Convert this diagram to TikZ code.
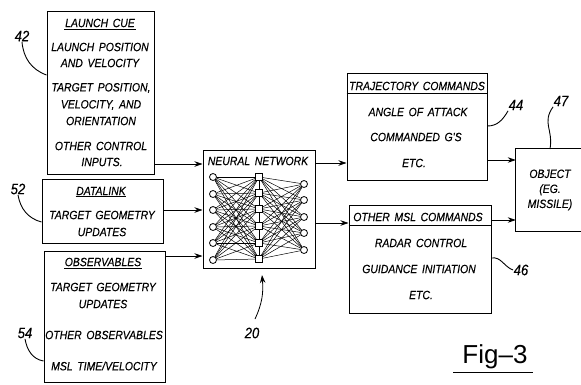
\documentclass[tikz,border=0pt]{standalone}
\usepackage{fontspec}
\newfontfamily\patfont[FakeStretch=0.87,WordSpace=1.6,FakeBold=0.3]{Liberation Sans}
\newfontfamily\figfont{Liberation Sans}
\usepackage{tikz}
\usetikzlibrary{arrows,arrows.meta,positioning,calc}

\begin{document}
\begin{tikzpicture}[
    x=1pt, y=-1pt,
    blockbox/.style={rectangle, draw, line width=1pt, inner sep=0pt},
    boxtext/.style={inner sep=0.5pt, font=\patfont\itshape\fontsize{12}{12}\selectfont},
    reflabel/.style={inner sep=0.5pt, font=\patfont\itshape\fontsize{15}{15}\selectfont},
    leader/.style={line width=0.9pt},
    arrow/.style={-{Stealth[length=8pt,width=5.5pt]}, line width=0.8pt},
    neuron/.style={circle, draw, fill=white, line width=0.8pt, minimum size=7pt, inner sep=0pt},
    hidden/.style={rectangle, draw, fill=white, line width=0.8pt, minimum size=6.5pt, inner sep=0pt},
    synapse/.style={line width=0.5pt}
]
\useasboundingbox (0,0) rectangle (581,384);

% Input blocks
\node[blockbox, minimum width=107pt, minimum height=163pt] (launch) at (100.5,92.5) {};
\node[boxtext] (launchtitle) at (100,23) {LAUNCH CUE};
\node[boxtext] (launch1) at (100,47) {LAUNCH POSITION};
\node[boxtext] (launch2) at (100,63) {AND VELOCITY};
\node[boxtext] (launch3) at (101,88) {TARGET POSITION,};
\node[boxtext] (launch4) at (101,105) {VELOCITY, AND};
\node[boxtext] (launch5) at (101,121) {ORIENTATION};
\node[boxtext] (launch6) at (101,146) {OTHER CONTROL};
\node[boxtext] (launch7) at (102,162) {INPUTS.};
\draw[line width=0.9pt] ([yshift=-1pt]launchtitle.south west) -- ([yshift=-1pt]launchtitle.south east);

\node[blockbox, minimum width=121pt, minimum height=64pt] (datalink) at (102.5,211) {};
\node[boxtext] (datatitle) at (101,191) {DATALINK};
\node[boxtext] (data1) at (102,215) {TARGET GEOMETRY};
\node[boxtext] (data2) at (102,232) {UPDATES};
\draw[line width=0.9pt] ([yshift=-1pt]datatitle.south west) -- ([yshift=-1pt]datatitle.south east);

\node[blockbox, minimum width=121pt, minimum height=131pt] (observ) at (104.5,316.5) {};
\node[boxtext] (obstitle) at (103,262) {OBSERVABLES};
\node[boxtext] (obs1) at (103,287) {TARGET GEOMETRY};
\node[boxtext] (obs2) at (103,304) {UPDATES};
\node[boxtext] (obs3) at (104,335) {OTHER OBSERVABLES};
\node[boxtext] (obs4) at (104,366) {MSL TIME/VELOCITY};
\draw[line width=0.9pt] ([yshift=-1pt]obstitle.south west) -- ([yshift=-1pt]obstitle.south east);

% Network
\node[blockbox, minimum width=112pt, minimum height=118pt] (nn) at (259,209) {};
\node[boxtext] (nntitle) at (258,161) {NEURAL NETWORK};

\foreach \i/\y in {1/177,2/194,3/210,4/227,5/243,6/260}
    \node[neuron] (l\i) at (213,\y) {};
\foreach \i/\y in {1/177,2/193,3/209,4/226,5/243,6/259}
    \node[hidden] (m\i) at (259,\y) {};
\foreach \i/\y in {1/184,2/200,3/217,4/233,5/250}
    \node[neuron] (r\i) at (304,\y) {};

\foreach \i in {1,...,6} {
    \foreach \j in {1,...,6}
        \draw[synapse] (l\i) -- (m\j);
    \foreach \j in {1,...,5}
        \draw[synapse] (m\i) -- (r\j);
}
\foreach \i/\j in {1/2,2/3,3/4,4/5,5/6}
    \draw[line width=0.8pt] (m\i) -- (m\j);

% Output blocks
\node[blockbox, minimum width=140pt, minimum height=107pt] (traj) at (417,126.5) {};
\node[boxtext] (trajtitle) at (417,86) {TRAJECTORY COMMANDS};
\node[boxtext] (traj1) at (418,112) {ANGLE OF ATTACK};
\node[boxtext] (traj2) at (416,137) {COMMANDED G'S};
\node[boxtext] (traj3) at (414,163) {ETC.};
\draw[line width=0.9pt] (traj.west |- 0,93) -- (traj.east |- 0,93);

\node[blockbox, minimum width=142pt, minimum height=108pt] (other) at (420,259) {};
\node[boxtext] (othertitle) at (418,217) {OTHER MSL COMMANDS};
\node[boxtext] (other1) at (421,243) {RADAR CONTROL};
\node[boxtext] (other2) at (419,269) {GUIDANCE INITIATION};
\node[boxtext] (other3) at (421,295) {ETC.};
\draw[line width=0.9pt] (other.west |- 0,225) -- (other.east |- 0,225);

\node[minimum width=65pt, minimum height=82pt, inner sep=0pt] (object) at (548.5,190) {};
\draw[line width=1pt] (object.north east) -- (object.north west) -- (object.south west) -- (object.south east);
\node[boxtext, align=center] (objecttext) at (550,190) {OBJECT\\[3pt](EG.\\[3pt]MISSILE)};

% Connections
\coordinate (nnin1) at (nn.west |- 0,164);
\coordinate (nnin2) at (nn.west |- 0,210);
\coordinate (nnin3) at (nn.west |- 0,256);
\coordinate (nnout1) at (nn.east |- 0,163);
\coordinate (nnout2) at (nn.east |- 0,223);
\coordinate (objin1) at (object.west |- 0,160);
\coordinate (objin2) at (object.west |- 0,220);
\draw[arrow] (launch.east |- nnin1) -- (nnin1);
\draw[arrow] (datalink.east |- nnin2) -- (nnin2);
\draw[arrow] (observ.east |- nnin3) -- (nnin3);
\draw[arrow] (nnout1) -- (traj.west |- nnout1);
\draw[arrow] (nnout2) -- (other.west |- nnout2);
\draw[arrow] (traj.east |- objin1) -- (objin1);
\draw[arrow] (other.east |- objin2) -- (objin2);

% Reference numerals
\node[reflabel] (n42) at (22,36) {42};
\node[reflabel] (n52) at (18,189) {52};
\node[reflabel] (n54) at (25,333) {54};
\node[reflabel] (n20) at (252,333) {20};
\node[reflabel] (n44) at (516,105) {44};
\node[reflabel] (n47) at (561,101) {47};
\node[reflabel] (n46) at (521,270) {46};
\node[inner sep=0pt, font=\figfont\fontsize{26}{26}\selectfont] (figlabel) at (495,357) {Fig–3};
\coordinate (figa) at (453,372);
\coordinate (figb) at (533,372);
\draw[line width=1pt] (figa) -- (figb);

\draw[leader] (n42.south) to[out=-85, in=160] (launch.west |- 0,75);
\draw[leader] (n52.south) to[out=-80, in=165] (datalink.west |- 0,222);
\draw[leader] (n54.south) to[out=-80, in=170] (observ.west |- 0,361);
\draw[leader] (n47.south west) to[out=-125, in=80, looseness=1.2] (550,149);
\draw[leader] (n44.south west) to[out=-120, in=0] (traj.east |- 0,126);
\draw[leader] (n46.west) to[out=160, in=10] (other.east |- 0,258);
\coordinate (nntip) at (262,275);
\coordinate (nnfoot) at (255,319);
\draw[arrow] (nnfoot) to[out=65, in=-85] (nntip);
\end{tikzpicture}
\end{document}
